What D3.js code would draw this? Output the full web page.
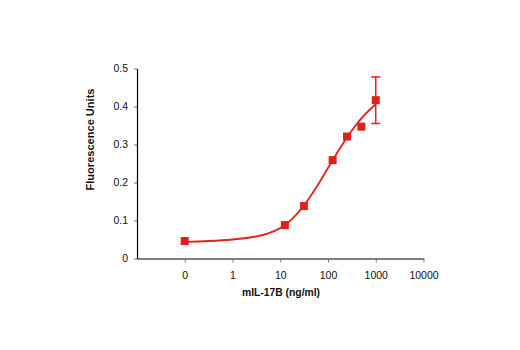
<!DOCTYPE html>
<html><head><meta charset="utf-8">
<script src="https://cdn.jsdelivr.net/npm/d3@7"></script>
<style>body{margin:0;background:#fff}svg{display:block}</style>
</head><body>
<svg id="c" width="520" height="350"></svg>
<script>
// Data
const doses = [0, 12.5, 31.25, 125, 250, 500, 1000];          // ng/ml (0 plotted at the "0" tick position)
const fluorescence = [0.046, 0.088, 0.138, 0.259, 0.321, 0.347, 0.4166];
const errors = [0, 0, 0, 0, 0, 0, 0.0613];
const fitDoses = [0.1, 0.316, 1, 3.16, 5.62, 10, 12.6, 17.8, 31.6, 56.2, 100, 178, 316, 562, 1000];
const fitValues = [0.044, 0.046, 0.050, 0.058, 0.066, 0.080, 0.088, 0.104, 0.140, 0.186, 0.238, 0.290, 0.337, 0.376, 0.406];
const xTickValues = [0.1, 1, 10, 100, 1000, 10000];
const xTickLabels = ["0", "1", "10", "100", "1000", "10000"];
const yTickValues = [0, 0.1, 0.2, 0.3, 0.4, 0.5];
const zeroPosition = 0.1;

const red = "#e3201b";
const svg = d3.select("#c");
const x = d3.scaleLog().domain([0.01, 10000]).range([137, 423.5]);
const y = d3.scaleLinear().domain([0, 0.5]).range([258.5, 68.5]);
const xv = d => d === 0 ? zeroPosition : d;
const font = "'Liberation Sans', Arial, Helvetica, sans-serif";

// Axes
const xAxis = svg.append("g").attr("transform", "translate(0,258.5)")
  .call(d3.axisBottom(x).tickValues(xTickValues).tickFormat((d, i) => xTickLabels[i]).tickSize(4).tickPadding(9).tickSizeOuter(0));
const yAxis = svg.append("g").attr("transform", "translate(137,0)")
  .call(d3.axisLeft(y).tickValues(yTickValues).tickFormat(d => d === 0 ? "0" : d3.format(".1f")(d)).tickSize(3).tickPadding(6).tickSizeOuter(0));
[xAxis, yAxis].forEach(a => {
  a.select(".domain").attr("stroke", "#000").attr("stroke-width", 1.2);
  a.selectAll(".tick line").attr("stroke", "#777").attr("stroke-width", 1);
  a.selectAll("text").attr("font-family", font).attr("font-size", 10.5).attr("fill", "#111");
});

// Axis titles
svg.append("text").attr("x", 281).attr("y", 295.5).attr("text-anchor", "middle")
  .attr("font-family", font).attr("font-weight", "bold")
  .attr("font-size", 11).attr("fill", "#111")
  .attr("textLength", 78).attr("lengthAdjust", "spacingAndGlyphs").text("mIL-17B (ng/ml)");
svg.append("text").attr("transform", "translate(94,139.5) rotate(-90)").attr("text-anchor", "middle")
  .attr("font-family", font).attr("font-weight", "bold")
  .attr("font-size", 11).attr("fill", "#111")
  .attr("textLength", 102).attr("lengthAdjust", "spacingAndGlyphs").text("Fluorescence Units");

// Fit curve
const line = d3.line().x(d => x(d)).y((d, i) => y(fitValues[i])).curve(d3.curveCatmullRom.alpha(0.5));
svg.append("path").attr("d", line(fitDoses)).attr("fill", "none").attr("stroke", red).attr("stroke-width", 1.8);

// Error bars
const eb = svg.append("g").attr("stroke", red).attr("stroke-width", 1.5);
doses.forEach((d, i) => {
  if (!errors[i]) return;
  const cx = x(xv(d)), y1 = y(fluorescence[i] + errors[i]), y2 = y(fluorescence[i] - errors[i]);
  eb.append("line").attr("x1", cx).attr("x2", cx).attr("y1", y1).attr("y2", y2);
  eb.append("line").attr("x1", cx - 4.5).attr("x2", cx + 4.5).attr("y1", y1).attr("y2", y1);
  eb.append("line").attr("x1", cx - 4.5).attr("x2", cx + 4.5).attr("y1", y2).attr("y2", y2);
});

// Markers
const s = 8;
svg.append("g").selectAll("rect").data(doses).join("rect")
  .attr("x", d => x(xv(d)) - s / 2).attr("y", (d, i) => y(fluorescence[i]) - s / 2)
  .attr("width", s).attr("height", s).attr("fill", red);
</script>
</body></html>
